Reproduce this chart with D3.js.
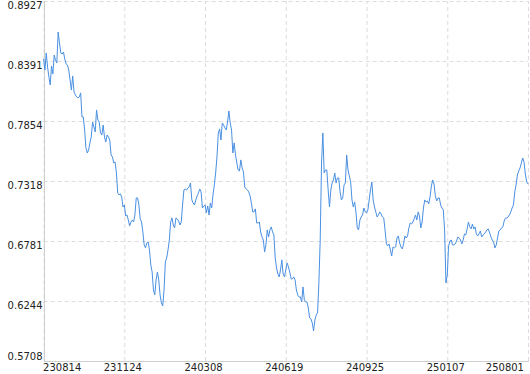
<!DOCTYPE html>
<html>
<head>
<meta charset="utf-8">
<script src="https://cdn.jsdelivr.net/npm/d3@7/dist/d3.min.js"></script>
<style>
  body { margin: 0; background: #fff; }
  svg { display: block; font-family: "DejaVu Sans", sans-serif; }
</style>
</head>
<body>
<svg id="chart"></svg>
<script>
// tick labels on the x axis (dates, yymmdd) and the index of the point they sit on
const dates = ["230814", "231124", "240308", "240619", "240925", "250107", "250801"];
const dateIndex = [0, 61, 122, 183, 244, 305, 366];

// y axis ticks
const yTicks = [0.8927, 0.8391, 0.7854, 0.7318, 0.6781, 0.6244, 0.5708];

// daily values
const values = [
  0.8409, 0.8310, 0.8462, 0.8337, 0.8248, 0.8176, 0.8346, 0.8274, 0.8444, 0.8400,
  0.8373, 0.8650, 0.8552, 0.8462, 0.8453, 0.8471, 0.8409, 0.8364, 0.8355, 0.8310,
  0.8221, 0.8131, 0.8257, 0.8114, 0.8087, 0.8069, 0.8060, 0.8069, 0.8105, 0.7890,
  0.7890, 0.7774, 0.7613, 0.7568, 0.7595, 0.7658, 0.7711, 0.7845, 0.7801, 0.7756,
  0.7953, 0.7863, 0.7845, 0.7747, 0.7729, 0.7818, 0.7711, 0.7667, 0.7729, 0.7711,
  0.7684, 0.7550, 0.7532, 0.7479, 0.7488, 0.7389, 0.7211, 0.7193, 0.7202, 0.7175,
  0.7085,
  0.7103, 0.7005, 0.7014, 0.6969, 0.6916, 0.6951, 0.6969, 0.6951, 0.7014, 0.7166,
  0.7166, 0.7103, 0.6978, 0.6951, 0.6862, 0.6746, 0.6719, 0.6764, 0.6773, 0.6701,
  0.6567, 0.6504, 0.6343, 0.6299, 0.6433, 0.6504, 0.6433, 0.6299, 0.6227, 0.6200,
  0.6343, 0.6594, 0.6629, 0.6701, 0.6790, 0.6951, 0.6987, 0.6924, 0.6898, 0.6987,
  0.6978, 0.6960, 0.6924, 0.6951, 0.7103, 0.7237, 0.7246, 0.7237, 0.7255, 0.7264,
  0.7300, 0.7148, 0.7121, 0.7103, 0.7148, 0.7184, 0.7211, 0.7246, 0.7220, 0.7076,
  0.7094,
  0.7103, 0.7032, 0.7094, 0.7014, 0.7121, 0.7076, 0.7193, 0.7282, 0.7389, 0.7532,
  0.7747, 0.7783, 0.7684, 0.7836, 0.7818, 0.7792, 0.7774, 0.7845, 0.7944, 0.7836,
  0.7774, 0.7568, 0.7658, 0.7550, 0.7479, 0.7416, 0.7407, 0.7506, 0.7434, 0.7398,
  0.7264, 0.7246, 0.7237, 0.7220, 0.7184, 0.7121, 0.7041, 0.7041, 0.7068, 0.6942,
  0.6942, 0.6951, 0.6862, 0.6817, 0.6790, 0.6683, 0.6746, 0.6880, 0.6817, 0.6880,
  0.6907, 0.6862, 0.6835, 0.6629, 0.6540, 0.6486, 0.6460, 0.6522, 0.6612, 0.6486,
  0.6460,
  0.6522, 0.6585, 0.6549, 0.6504, 0.6442, 0.6442, 0.6460, 0.6433, 0.6343, 0.6299,
  0.6281, 0.6281, 0.6236, 0.6370, 0.6254, 0.6236, 0.6236, 0.6182, 0.6093, 0.6084,
  0.6048, 0.5977, 0.6075, 0.6120, 0.6138, 0.6406, 0.6790, 0.7479, 0.7747, 0.7389,
  0.7416, 0.7416, 0.7237, 0.7085, 0.7237, 0.7300, 0.7327, 0.7389, 0.7300, 0.7345,
  0.7345, 0.7220, 0.7148, 0.7166, 0.7282, 0.7300, 0.7550, 0.7416, 0.7363, 0.7309,
  0.7148, 0.7085, 0.7130, 0.7041, 0.6898, 0.6880, 0.6969, 0.6996, 0.7014, 0.7076,
  0.7041,
  0.7032, 0.7059, 0.7148, 0.7237, 0.7309, 0.7148, 0.7085, 0.7041, 0.6996, 0.7014,
  0.7041, 0.7023, 0.6996, 0.6987, 0.6880, 0.6755, 0.6737, 0.6755, 0.6701, 0.6647,
  0.6728, 0.6719, 0.6728, 0.6808, 0.6826, 0.6764, 0.6728, 0.6710, 0.6755, 0.6826,
  0.6808, 0.6826, 0.6898, 0.6942, 0.6933, 0.6951, 0.6978, 0.7014, 0.6969, 0.7041,
  0.7005, 0.6898, 0.6951, 0.7076, 0.7148, 0.7130, 0.7139, 0.7112, 0.7175, 0.7273,
  0.7327, 0.7291, 0.7184, 0.7139, 0.7166, 0.7166, 0.7103, 0.7076, 0.7059, 0.6880,
  0.6406,
  0.6477, 0.6737, 0.6781, 0.6790, 0.6746, 0.6746, 0.6755, 0.6781, 0.6817, 0.6808,
  0.6790, 0.6755, 0.6790, 0.6844, 0.6835, 0.6889, 0.6951, 0.6907, 0.6889, 0.6933,
  0.6889, 0.6907, 0.6844, 0.6826, 0.6844, 0.6871, 0.6817, 0.6835, 0.6844, 0.6862,
  0.6880, 0.6889, 0.6853, 0.6817, 0.6790, 0.6773, 0.6719, 0.6746, 0.6808, 0.6871,
  0.6880, 0.6898, 0.6907, 0.6960, 0.6987, 0.6987, 0.6996, 0.7014, 0.7041, 0.7076,
  0.7103, 0.7220, 0.7282, 0.7371, 0.7407, 0.7434, 0.7479, 0.7523, 0.7488, 0.7380,
  0.7309, 0.7291
];

let W = 530, H = 374;
let mLeft = 43.6, mRight = 528, mTop = 1, mBottom = 361;

let svg = d3.select("#chart")
            .attr("width", W)
            .attr("height", H);

let xScale = d3.scaleLinear()
                .domain([0, values.length - 1])
                .range([mLeft, mRight]),
    yScale = d3.scaleLinear()
                .domain([yTicks[yTicks.length - 1], yTicks[0]])
                .range([mBottom, mTop]);

let xAxis = d3.axisBottom(xScale)
                .tickValues(dateIndex)
                .tickFormat((d, i) => dates[i])
                .tickSizeInner(-(mBottom - mTop))
                .tickSizeOuter(0)
                .tickPadding(3),
    yAxis = d3.axisLeft(yScale)
                .tickValues(yTicks)
                .tickFormat(d3.format(".4f"))
                .tickSizeInner(-(mRight - mLeft))
                .tickSizeOuter(0)
                .tickPadding(1);

/* y axis with horizontal grid */
let gy = svg.append("g")
            .attr("transform", `translate(${mLeft}, 0)`)
            .call(yAxis);
gy.select(".domain").remove();
gy.selectAll(".tick line")
    .attr("stroke", "#dcdcdc")
    .attr("stroke-dasharray", "4 3");
gy.selectAll(".tick text")
    .attr("fill", "#222")
    .attr("font-size", 10)
    .attr("font-family", "DejaVu Sans, sans-serif")
    .attr("y", (d) => Math.min(4, mBottom - 5 - yScale(d)));

/* x axis with vertical grid */
let gx = svg.append("g")
            .attr("transform", `translate(0, ${mBottom})`)
            .call(xAxis);
gx.select(".domain").remove();
gx.selectAll(".tick line")
    .attr("stroke", "#dcdcdc")
    .attr("stroke-dasharray", "4 3");
gx.selectAll(".tick text")
    .attr("fill", "#222")
    .attr("font-size", 10)
    .attr("font-family", "DejaVu Sans, sans-serif")
    .each(function(d) {
        /* keep the end labels inside the chart */
        let w = this.getComputedTextLength(),
            cx = xScale(d) - 1.5,
            x0 = Math.max(mLeft - 0.5, Math.min(cx - w / 2, mRight - 4 - w));
        d3.select(this).attr("x", x0 + w / 2 - xScale(d) - 0.5);
    });

/* solid axis lines */
svg.append("line")
    .attr("x1", 44.5).attr("x2", 44.5)
    .attr("y1", mTop).attr("y2", mBottom + 0.5)
    .attr("stroke", "#cfcfcf");
svg.append("line")
    .attr("x1", 44).attr("x2", mRight + 1)
    .attr("y1", mBottom + 0.5).attr("y2", mBottom + 0.5)
    .attr("stroke", "#cfcfcf");

/* the series */
let line = d3.line()
                .x((d, i) => xScale(i))
                .y((d) => yScale(d));

svg.append("path")
    .datum(values)
    .attr("fill", "none")
    .attr("stroke", "#4a90e2")
    .attr("stroke-width", 1)
    .attr("stroke-linejoin", "round")
    .attr("d", line);
</script>
</body>
</html>
